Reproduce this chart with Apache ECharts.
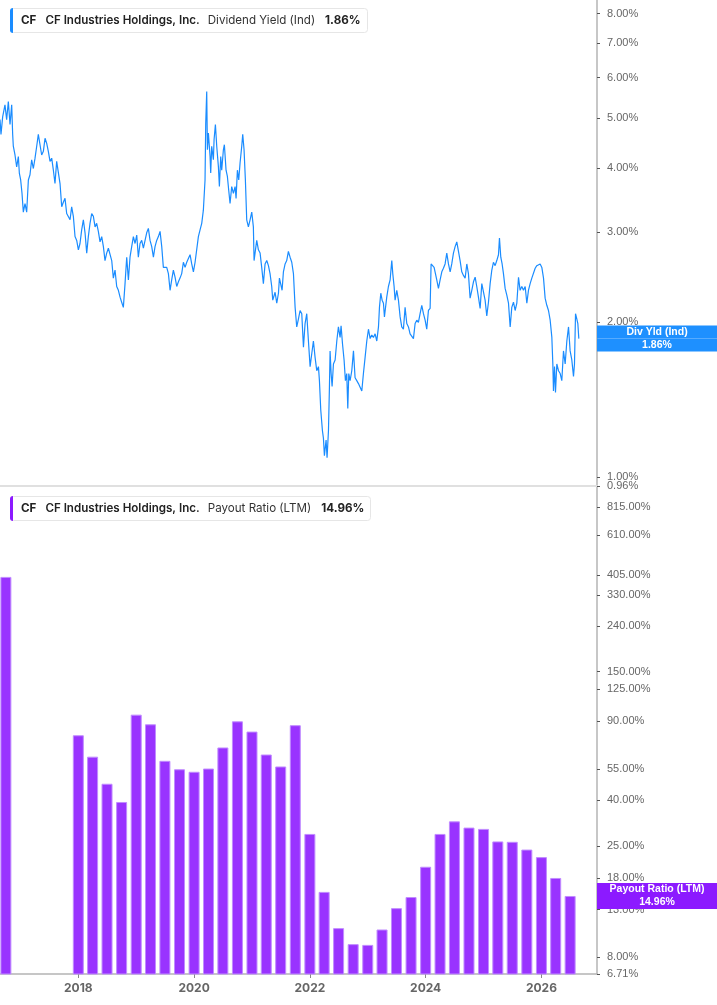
<!DOCTYPE html>
<html><head><meta charset="utf-8">
<script src="https://cdn.jsdelivr.net/npm/echarts@6/dist/echarts.min.js"></script>
<style>html,body{margin:0;padding:0;background:#fff}#c{width:717px;height:1005px}</style>
</head><body><div id="c"></div>
<script>
const ticker = 'CF';
const company = 'CF Industries Holdings, Inc.';
const yieldName = 'Dividend Yield (Ind)';
const yieldShort = 'Div Yld (Ind)';
const payoutName = 'Payout Ratio (LTM)';
const currentYield = 1.86;
const currentPayout = 14.96;

// [decimal year, dividend yield %]
const yieldHistory = [
[2016.647,4.97],[2016.664,4.65],[2016.693,5.03],[2016.733,5.31],[2016.762,4.97],[2016.791,5.39],[2016.820,4.86],[2016.849,5.31],[2016.866,4.65],[2016.877,4.41],
[2016.906,4.24],[2016.935,4.02],[2016.964,4.21],[2016.981,3.91],[2017.004,3.79],[2017.027,3.57],[2017.050,3.28],[2017.079,3.41],[2017.108,3.28],[2017.137,3.79],
[2017.165,3.88],[2017.194,4.15],[2017.223,3.99],[2017.252,4.18],[2017.281,4.41],[2017.309,4.65],[2017.338,4.68],[2017.367,4.24],[2017.396,4.31],[2017.425,4.57],
[2017.453,4.47],[2017.482,4.31],[2017.511,4.12],[2017.540,4.18],[2017.569,3.96],[2017.597,3.73],[2017.626,4.12],[2017.655,4.15],[2017.684,3.73],[2017.713,3.36],
[2017.741,3.43],[2017.770,3.49],[2017.799,3.26],[2017.828,3.28],[2017.857,3.17],[2017.885,3.36],[2017.914,3.22],[2017.943,2.94],[2017.972,2.89],[2018.001,2.77],
[2018.029,2.85],[2018.058,3.03],[2018.087,3.17],[2018.116,2.99],[2018.145,2.73],[2018.173,2.94],[2018.202,3.12],[2018.231,3.26],[2018.260,3.22],[2018.289,3.07],
[2018.317,3.12],[2018.346,3.01],[2018.375,2.87],[2018.404,2.94],[2018.433,2.81],[2018.461,2.64],[2018.490,2.73],[2018.519,2.79],[2018.548,2.81],[2018.577,2.64],
[2018.605,2.44],[2018.634,2.53],[2018.663,2.35],[2018.692,2.31],[2018.721,2.24],[2018.749,2.19],[2018.778,2.14],[2018.807,2.38],[2018.836,2.68],[2018.865,2.42],
[2018.893,2.68],[2018.922,2.81],[2018.951,2.94],[2018.980,2.85],[2019.009,2.96],[2019.037,2.68],[2019.066,2.85],[2019.095,2.89],[2019.124,2.79],[2019.153,2.89],
[2019.181,2.99],[2019.210,3.05],[2019.239,2.89],[2019.268,2.81],[2019.297,2.68],[2019.325,2.81],[2019.354,2.89],[2019.383,2.94],[2019.412,3.01],[2019.441,2.81],
[2019.469,2.56],[2019.498,2.55],[2019.527,2.56],[2019.556,2.49],[2019.585,2.31],[2019.613,2.42],[2019.642,2.53],[2019.671,2.45],[2019.700,2.35],[2019.729,2.40],
[2019.757,2.44],[2019.786,2.49],[2019.815,2.62],[2019.844,2.56],[2019.873,2.62],[2019.901,2.64],[2019.930,2.71],[2019.959,2.60],[2019.988,2.51],[2020.017,2.62],
[2020.045,2.64],[2020.074,2.94],[2020.103,3.03],[2020.132,3.12],[2020.160,3.31],[2020.189,3.79],[2020.201,4.89],[2020.218,5.64],[2020.230,4.34],[2020.247,4.68],
[2020.276,4.21],[2020.287,3.91],[2020.304,4.41],[2020.333,4.15],[2020.345,4.54],[2020.368,4.86],[2020.391,4.41],[2020.420,4.02],[2020.437,3.68],[2020.460,4.21],
[2020.477,3.96],[2020.506,4.34],[2020.523,4.44],[2020.552,3.96],[2020.575,3.85],[2020.598,3.62],[2020.621,3.41],[2020.650,3.68],[2020.679,3.57],[2020.708,3.68],
[2020.725,3.49],[2020.748,3.96],[2020.771,3.79],[2020.794,4.09],[2020.823,4.41],[2020.840,4.65],[2020.863,4.34],[2020.886,3.79],[2020.909,3.17],[2020.938,3.07],
[2020.967,3.17],[2020.996,3.28],[2021.024,3.07],[2021.036,2.64],[2021.053,2.73],[2021.082,2.89],[2021.111,2.77],[2021.140,2.73],[2021.168,2.56],[2021.197,2.38],
[2021.226,2.60],[2021.255,2.64],[2021.284,2.58],[2021.312,2.49],[2021.341,2.35],[2021.359,2.21],[2021.399,2.29],[2021.428,2.18],[2021.457,2.28],[2021.474,2.44],
[2021.497,2.42],[2021.520,2.31],[2021.543,2.51],[2021.572,2.60],[2021.600,2.64],[2021.629,2.75],[2021.658,2.68],[2021.687,2.62],[2021.716,2.49],[2021.745,2.14],
[2021.773,1.96],[2021.802,2.03],[2021.831,2.11],[2021.860,2.08],[2021.889,1.79],[2021.917,1.99],[2021.946,2.08],[2021.975,1.84],[2022.004,1.64],[2022.033,1.74],
[2022.061,1.84],[2022.090,1.71],[2022.119,1.61],[2022.148,1.64],[2022.165,1.54],[2022.188,1.35],[2022.217,1.23],[2022.234,1.19],[2022.251,1.10],[2022.280,1.18],
[2022.297,1.09],[2022.321,1.23],[2022.338,1.50],[2022.349,1.76],[2022.367,1.59],[2022.384,1.50],[2022.407,1.66],[2022.436,1.69],[2022.465,1.84],[2022.493,1.96],
[2022.522,1.87],[2022.539,1.97],[2022.563,1.82],[2022.591,1.69],[2022.614,1.54],[2022.637,1.59],[2022.655,1.36],[2022.672,1.59],[2022.695,1.54],[2022.724,1.61],
[2022.753,1.76],[2022.781,1.56],[2022.810,1.54],[2022.839,1.52],[2022.868,1.53],[2022.897,1.47],[2022.925,1.59],[2022.954,1.71],[2022.983,1.84],[2023.012,1.94],
[2023.041,1.86],[2023.069,1.89],[2023.098,1.87],[2023.127,1.90],[2023.156,1.84],[2023.185,1.96],[2023.202,2.14],[2023.225,2.28],[2023.248,2.21],[2023.271,2.18],
[2023.288,2.05],[2023.328,2.24],[2023.357,2.35],[2023.386,2.42],[2023.415,2.64],[2023.432,2.49],[2023.455,2.35],[2023.472,2.21],[2023.501,2.31],[2023.530,2.21],
[2023.559,2.05],[2023.587,1.96],[2023.616,1.94],[2023.645,2.14],[2023.674,1.99],[2023.703,1.96],[2023.731,1.90],[2023.760,1.89],[2023.789,1.86],[2023.818,1.99],
[2023.847,2.02],[2023.875,2.00],[2023.904,2.08],[2023.933,2.16],[2023.962,2.08],[2023.991,2.02],[2024.019,1.94],[2024.048,2.11],[2024.077,2.13],[2024.094,2.60],
[2024.123,2.62],[2024.146,2.56],[2024.169,2.49],[2024.192,2.42],[2024.221,2.33],[2024.250,2.42],[2024.279,2.51],[2024.307,2.55],[2024.336,2.60],[2024.365,2.73],
[2024.394,2.60],[2024.423,2.51],[2024.451,2.60],[2024.480,2.73],[2024.509,2.81],[2024.538,2.87],[2024.567,2.75],[2024.595,2.64],[2024.624,2.51],[2024.653,2.47],
[2024.682,2.44],[2024.711,2.60],[2024.739,2.49],[2024.768,2.23],[2024.797,2.31],[2024.826,2.40],[2024.855,2.45],[2024.883,2.35],[2024.912,2.24],[2024.941,2.13],
[2024.970,2.38],[2024.999,2.38],[2025.027,2.21],[2025.056,2.06],[2025.085,2.19],[2025.114,2.38],[2025.143,2.53],[2025.171,2.62],[2025.200,2.58],[2025.229,2.64],
[2025.258,2.71],[2025.275,2.92],[2025.298,2.68],[2025.321,2.60],[2025.344,2.49],[2025.373,2.33],[2025.402,2.26],[2025.431,2.18],[2025.460,1.96],[2025.488,2.14],
[2025.517,2.19],[2025.546,2.11],[2025.575,2.18],[2025.604,2.45],[2025.632,2.31],[2025.661,2.35],[2025.690,2.31],[2025.719,2.35],[2025.748,2.18],[2025.776,2.31],
[2025.805,2.38],[2025.834,2.44],[2025.863,2.44],[2025.892,2.55],[2025.920,2.58],[2025.949,2.56],[2025.978,2.60],[2026.007,2.56],[2026.036,2.44],[2026.064,2.23],
[2026.093,2.16],[2026.122,2.11],[2026.151,2.02],[2026.180,1.87],[2026.197,1.66],[2026.208,1.47],[2026.226,1.64],[2026.243,1.46],[2026.266,1.66],[2026.295,1.61],
[2026.324,1.59],[2026.352,1.54],[2026.381,1.76],[2026.410,1.66],[2026.439,1.84],[2026.468,1.96],[2026.496,1.76],[2026.525,1.69],[2026.554,1.57],[2026.571,1.66],
[2026.589,2.08],[2026.612,2.03],[2026.629,1.99],[2026.646,1.86]
];

const payoutDates = ['2016-09-30',
  '2017-12-31','2018-03-31','2018-06-30','2018-09-30','2018-12-31','2019-03-31','2019-06-30','2019-09-30',
  '2019-12-31','2020-03-31','2020-06-30','2020-09-30','2020-12-31','2021-03-31','2021-06-30','2021-09-30',
  '2021-12-31','2022-03-31','2022-06-30','2022-09-30','2022-12-31','2023-03-31','2023-06-30','2023-09-30',
  '2023-12-31','2024-03-31','2024-06-30','2024-09-30','2024-12-31','2025-03-31','2025-06-30','2025-09-30',
  '2025-12-31','2026-03-31','2026-06-30'];
const payoutValues = [397,
  78, 62.6, 47.4, 39.3, 96.4, 87.3, 60, 55,
  53.6, 55.4, 68.8, 90, 81, 64, 56.6, 86.5,
  28.3, 15.6, 10.75, 9.12, 9.05, 10.6, 13.2, 14.8,
  20.2, 28.3, 32.2, 30.2, 29.8, 26.2, 26.1, 24.1,
  22.3, 18.0, 14.96];

// tick labels, listed from top to bottom of each axis
const yieldTicks = [8, 7, 6, 5, 4, 3, 2, 1, 0.96];
const payoutTicks = [815, 610, 405, 330, 240, 150, 125, 90, 55, 40, 25, 18, 13, 8, 6.71];
const yearTicks = [2018, 2020, 2022, 2024, 2026];
const xRange = [2016.647, 2026.96];

const BLUE_LINE = '#1a8cff', BLUE_BOX = '#1e90ff', PURPLE_BAR = '#9933ff', PURPLE_BOX = '#8c1aff';
const AX = '#b4b4b4';
const LABEL_FONT = 'Liberation Sans';

// date string -> decimal year (end of the given day)
function dateToYear(s) {
  const p = s.split('-').map(Number);
  const a = Date.UTC(p[0], 0, 1), b = Date.UTC(p[0] + 1, 0, 1);
  return p[0] + (Date.UTC(p[0], p[1] - 1, p[2]) + 86400000 - a) / (b - a);
}

function legendTitle(top, color, metric, value) {
  const base = {fontFamily: 'Inter', fontSize: 11.6, color: '#222', lineHeight: 25};
  return {
    left: 10, top: top, padding: [0, 7, 0, 0],
    backgroundColor: '#fff', borderColor: '#e6e6e6', borderWidth: 1, borderRadius: 3,
    text: '{bar|}{t|' + ticker + '}{n|' + company + '}{m|' + metric + '}{v|' + value + '}',
    textStyle: { rich: {
      bar: {width: 3, height: 25, backgroundColor: color, borderRadius: [3, 0, 0, 3]},
      t: Object.assign({}, base, {fontWeight: 'bold', padding: [0, 0, 0, 8]}),
      n: Object.assign({}, base, {fontWeight: 600, padding: [0, 0, 0, 9]}),
      m: Object.assign({}, base, {fontWeight: 'normal', color: '#333', padding: [0, 0, 0, 8]}),
      v: Object.assign({}, base, {fontWeight: 'bold', padding: [0, 0, 0, 10]})
    }}
  };
}

function yLabel(ticks, current, title, color) {
  const hl = {width: 120, height: 13, lineHeight: 13, align: 'center', backgroundColor: color,
    color: '#fff', fontWeight: 'bold', fontSize: 10.5, fontFamily: LABEL_FONT};
  return {
    customValues: ticks.concat([current]),
    margin: 0,
    formatter: function (v) {
      if (Math.abs(v - current) < 1e-9) {
        return '{a|' + title + '}\n{b|' + current.toFixed(2) + '%}';
      }
      return '{n|' + v.toFixed(2) + '%}';
    },
    rich: {
      n: {padding: [0, 0, 0, 10], color: '#666', fontSize: 11, fontFamily: LABEL_FONT, lineHeight: 8, height: 8},
      a: Object.assign({}, hl, {verticalAlign: 'bottom'}),
      b: Object.assign({}, hl, {verticalAlign: 'top'})
    }
  };
}

const chart = echarts.init(document.getElementById('c'), null, {renderer: 'canvas'});
chart.setOption({
  animation: false,
  backgroundColor: '#fff',
  title: [
    legendTitle(8, BLUE_LINE, yieldName, currentYield.toFixed(2) + '%'),
    legendTitle(496, PURPLE_BOX, payoutName, currentPayout.toFixed(2) + '%')
  ],
  grid: [
    {left: 0, right: 120, top: 0, height: 486, outerBoundsMode: 'none'},
    {left: 0, right: 120, top: 487, height: 487, outerBoundsMode: 'none'}
  ],
  xAxis: [
    {type: 'value', gridIndex: 0, min: xRange[0], max: xRange[1], scale: true,
     axisLine: {show: true, onZero: false, lineStyle: {color: '#e0e0e0', width: 2}},
     axisTick: {show: false}, axisLabel: {show: false}, splitLine: {show: false}},
    {type: 'value', gridIndex: 1, min: xRange[0], max: xRange[1], scale: true,
     axisLine: {show: true, onZero: false, lineStyle: {color: AX, width: 1.5}},
     axisTick: {show: true, customValues: yearTicks, length: 4, lineStyle: {color: '#888'}},
     axisLabel: {customValues: yearTicks, formatter: function (v) { return String(Math.round(v)); },
       color: '#666', fontWeight: 'bold', fontSize: 12, fontFamily: 'Inter', margin: 8},
     splitLine: {show: false}}
  ],
  yAxis: [
    {type: 'log', logBase: 10, gridIndex: 0, position: 'right', min: 0.9599, max: 8.5,
     axisLine: {show: true, lineStyle: {color: AX, width: 1.5}},
     axisTick: {show: true, customValues: yieldTicks, length: 3, lineStyle: {color: '#555'}},
     axisLabel: yLabel(yieldTicks, currentYield, yieldShort, BLUE_BOX),
     splitLine: {show: false}},
    {type: 'log', logBase: 10, gridIndex: 1, position: 'right', min: 6.7099, max: 1000,
     axisLine: {show: true, lineStyle: {color: AX, width: 1.5}},
     axisTick: {show: true, customValues: payoutTicks, length: 3, lineStyle: {color: '#555'}},
     axisLabel: yLabel(payoutTicks, currentPayout, payoutName, PURPLE_BOX),
     splitLine: {show: false}}
  ],
  series: [
    {type: 'line', xAxisIndex: 0, yAxisIndex: 0, symbol: 'none', showSymbol: false, clip: true,
     lineStyle: {color: BLUE_LINE, width: 1.2}, itemStyle: {color: BLUE_LINE},
     data: yieldHistory},
    {type: 'bar', xAxisIndex: 1, yAxisIndex: 1, barWidth: 11, clip: true,
     itemStyle: {color: PURPLE_BAR, borderColor: '#c08cff', borderWidth: 1},
     data: payoutDates.map(function (d, i) { return [dateToYear(d), payoutValues[i]]; })}
  ]
});
</script>
</body></html>
